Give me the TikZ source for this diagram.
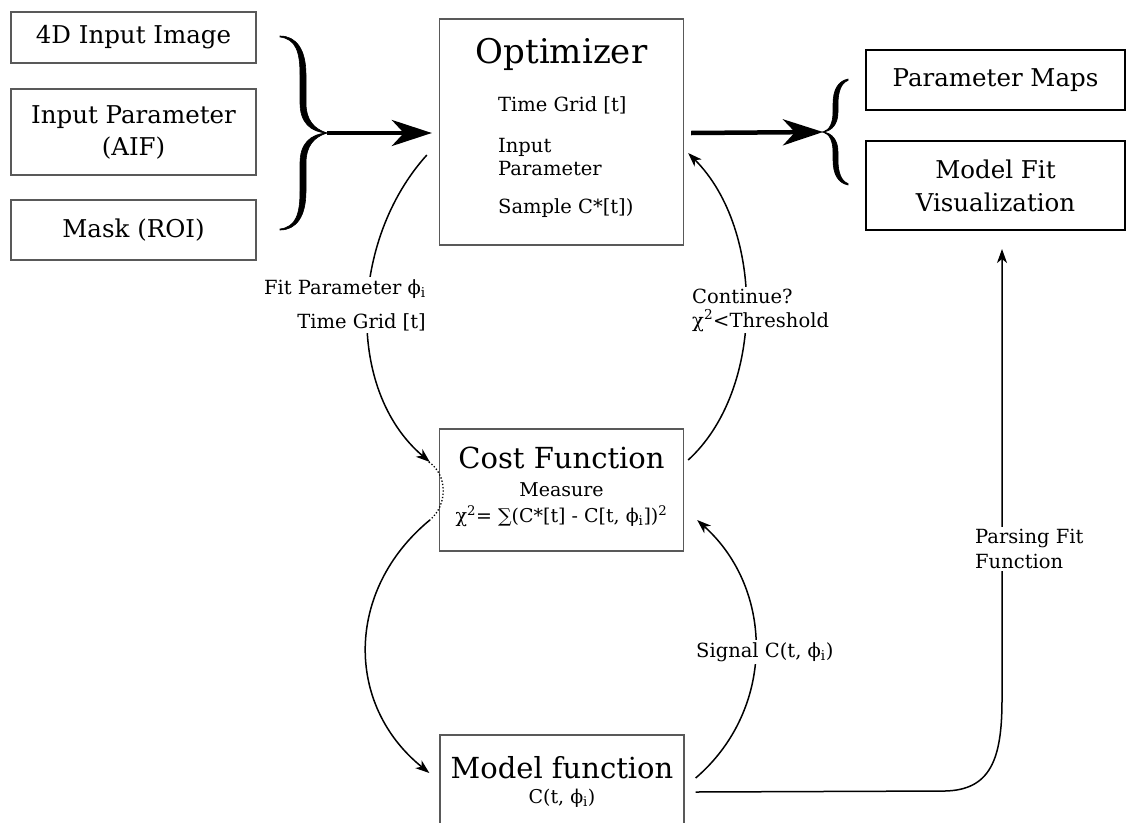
\documentclass[tikz,border=0pt]{standalone}
\usepackage{fontspec}
\setmainfont{DejaVu Serif}
\usetikzlibrary{arrows.meta,calc}

\newcommand{\fsize}[2]{\fontsize{#1}{#2}\selectfont}

\begin{document}
\begin{tikzpicture}[x=1pt, y=-1pt,
        inbox/.style={draw=black!65, line width=1.3pt, minimum width=245pt, align=center, font=\fsize{24.5}{32}},
        outbox/.style={draw, line width=2pt, minimum width=259pt, align=center, font=\fsize{24.5}{33}},
        block/.style={draw=black!65, line width=1.3pt, minimum width=244pt},
        lbl/.style={font=\fsize{19.5}{24}, inner sep=2pt},
        flow/.style={line width=1.5pt, -{Stealth[length=14pt,width=10pt,inset=4pt]}},
        bigflow/.style={line width=4.5pt, -{Stealth[length=40pt,width=26pt,inset=12pt]}}]
    \useasboundingbox (0,0) rectangle (1134,822);
    \clip (0,0) rectangle (1134,822);

    % inputs
    \node[inbox, minimum height=51pt] (img) at (133.5,37.5) {4D Input Image};
    \node[inbox, minimum height=86pt] (aif) at (133.5,132) {Input Parameter\\(AIF)};
    \node[inbox, minimum height=60pt] (mask) at (133.5,230) {Mask (ROI)};

    % optimizer
    \node[block, minimum height=226pt] (opt) at (561.5,132) {};
    \node[anchor=base, font=\fsize{34}{40}] (opttitle) at (561.5,63) {Optimizer};
    \node[lbl, anchor=base west] (optgrid) at (496,111) {Time Grid [t]};
    \node[lbl, anchor=base west, align=left, font=\fsize{19.5}{23}] (optpar) at (496,175) {Input\\Parameter};
    \node[lbl, anchor=base west] (optsample) at (496,213) {Sample C*[t])};

    % cost function
    \node[block, minimum height=122pt] (cost) at (561.5,490) {};
    \node[anchor=base, font=\fsize{29}{34}] (costtitle) at (561.5,468) {Cost Function};
    \node[anchor=base, font=\fsize{19}{24}] (costmeas) at (561.5,496) {Measure};
    \node[anchor=base, font=\fsize{19}{24}] (costchi) at (561.5,522) {χ\textsuperscript{2}= ∑(C*[t] - C[t, ϕ\textsubscript{i}])\textsuperscript{2}};

    % model function
    \node[block, minimum height=114pt] (model) at (562,792) {};
    \node[anchor=base, font=\fsize{29}{34}] (modeltitle) at (562,778) {Model function};
    \node[anchor=base, font=\fsize{19}{24}] (modelsig) at (562,803) {C(t, ϕ\textsubscript{i})};

    % outputs
    \node[outbox, minimum height=60pt] (maps) at (995.5,80) {Parameter Maps};
    \node[outbox, minimum height=89pt] (vis) at (995.5,185.5) {Model Fit\\Visualization};

    % braces
    \coordinate (lbrace) at (327,133);
    \coordinate (rbrace) at (823,132);
    \foreach \s in {1,-1} {
        \filldraw[line width=0.6pt] (280,133-96*\s) .. controls (296,133-94*\s) and (300,133-81*\s) .. (300,133-58*\s)
            -- (300,133-30*\s) .. controls (300,133-11*\s) and (310,133-1*\s) .. (lbrace)
            .. controls (314,133-4*\s) and (306,133-13*\s) .. (306,133-30*\s)
            -- (306,133-58*\s) .. controls (306,133-84*\s) and (296,133-97*\s) .. (280,133-97*\s) -- cycle;
        \filldraw[line width=0.6pt] (rbrace) .. controls (830,132-2*\s) and (833,132-10*\s) .. (833,132-20*\s)
            -- (833,132-28*\s) .. controls (833,132-42*\s) and (838,132-51*\s) .. (848,132-53*\s)
            -- (848,132-51.5*\s) .. controls (841,132-49*\s) and (838,132-40*\s) .. (838,132-28*\s)
            -- (838,132-20*\s) .. controls (838,132-8*\s) and (832,132-1*\s) .. (rbrace) -- cycle;
    }
    \draw[bigflow] (lbrace) -- ($(opt.west)+(-7,1)$);
    \draw[bigflow] ($(opt.east)+(7,1)$) -- (rbrace);

    % loop
    \draw[flow] ($(opt.west)+(-12,23)$) .. controls (350,240) and (345,390) .. ($(cost.west)+(-9,-28)$);
    \draw[line width=1.3pt, dotted] ($(cost.west)+(-10,-28)$) .. controls ($(cost.west)+(9,-15)$) and ($(cost.west)+(9,15)$) .. ($(cost.west)+(-9,30)$);
    \draw[flow] ($(cost.west)+(-9,30)$) .. controls (345,590) and (345,705) .. ($(model.west)+(-10,-19)$);
    \draw[flow] ($(model.east)+(11,-14)$) .. controls (775,710) and (775,590) .. ($(cost.east)+(13,30)$);
    \draw[flow] ($(cost.east)+(4,-30)$) .. controls (765,390) and (765,230) .. ($(opt.east)+(4,21)$);
    \draw[flow] ($(model.east)+(11,0)$) -- (945,791) .. controls (990,790) and (1002,760) .. (1002,700)
        -- ($(vis.south)+(6.5,18)$);

    % labels
    \node[lbl, fill=white, align=right, anchor=east, font=\fsize{19.5}{34}] (fitlbl) at (428,305) {Fit Parameter ϕ\textsubscript{i}\\Time Grid [t]};
    \node[lbl, fill=white, align=left, anchor=west] (contlbl) at (690,310) {Continue?\\χ\textsuperscript{2}<Threshold};
    \node[lbl, fill=white, anchor=west] (siglbl) at (694,652) {Signal C(t, ϕ\textsubscript{i})};
    \node[lbl, fill=white, align=left, anchor=west, font=\fsize{19.5}{25}] (parslbl) at (973,549) {Parsing Fit\\Function};
\end{tikzpicture}
\end{document}
